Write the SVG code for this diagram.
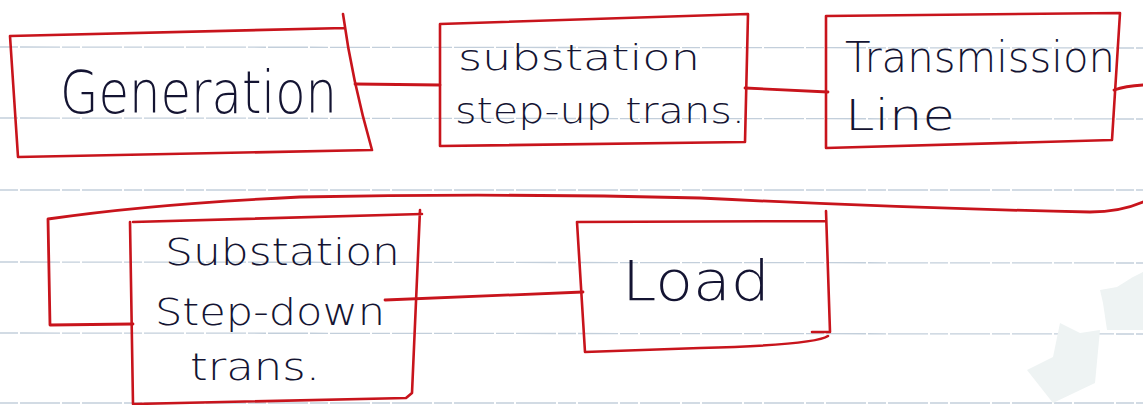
<svg xmlns="http://www.w3.org/2000/svg" width="1143" height="405" viewBox="0 0 1143 405">
<style>
.paper{stroke:#c3cfdb;stroke-width:1.3;stroke-dasharray:18 2 40 2;fill:none}
.patch{fill:#eef3f3}
.box{fill:none;stroke:#c8141c;stroke-width:2.6;stroke-linejoin:round;stroke-linecap:round}
.wire{fill:none;stroke:#c8141c;stroke-width:2.8;stroke-linecap:round;stroke-linejoin:round}
.lbl{font-family:"DejaVu Sans","Liberation Sans",sans-serif;font-weight:300;fill:#141432}
</style>
<rect width="1143" height="405" fill="#ffffff"/>
<g id="paper">
<path class="paper" d="M0 47 L1143 48"/>
<path class="paper" d="M0 118 L1143 119"/>
<path class="paper" d="M0 190 L1143 190"/>
<path class="paper" d="M0 262 L1143 263"/>
<path class="paper" d="M0 333 L1143 334"/>
<path class="paper" d="M0 403 L1143 403"/>
<path class="patch" d="M1100 290 L1117 287 L1133 277 L1143 272 L1143 330 L1107 330 L1103 303 Z"/>
<path class="patch" d="M1060 323 L1080 333 L1100 330 L1095 383 L1053 403 L1027 370 L1053 357 Z"/>
</g>
<g id="connectors">
<path class="wire" d="M355 84 L440 85"/>
<path class="wire" d="M745 88 L828 92"/>
<path class="wire" d="M1114 90 Q1125 86 1143 85"/>
<path class="wire" d="M1143 202 Q1120 212 1090 212 Q900 208 700 198 Q500 193 300 197 Q150 204 48 219 L50 325 L133 324"/>
<path class="wire" d="M385 300 L583 292"/>
</g>
<g id="generation">
<path class="box" d="M10 36 L345 28 M343 14 Q352 80 372 150 L18 157 L10 36"/>
<text class="lbl" x="60" y="113" font-size="58" textLength="277" lengthAdjust="spacingAndGlyphs">Generation</text>
</g>
<g id="stepup">
<path class="box" d="M440 24 L748 14 L745 142 L440 146 Z"/>
<text class="lbl" x="458" y="70" font-size="36" textLength="242" lengthAdjust="spacingAndGlyphs">substation</text>
<text class="lbl" x="455" y="123" font-size="36" textLength="290" lengthAdjust="spacingAndGlyphs">step-up trans.</text>
</g>
<g id="transmission">
<path class="box" d="M826 16 L1120 13 L1112 140 L826 148 Z"/>
<text class="lbl" x="845" y="72" font-size="42" textLength="270" lengthAdjust="spacingAndGlyphs">Transmission</text>
<text class="lbl" x="845" y="130" font-size="42" textLength="110" lengthAdjust="spacingAndGlyphs">Line</text>
</g>
<g id="stepdown">
<path class="box" d="M133 222 L422 214 M420 210 L412 393 L406 398 L133 404 L130 222"/>
<text class="lbl" x="165" y="265" font-size="38" textLength="235" lengthAdjust="spacingAndGlyphs">Substation</text>
<text class="lbl" x="155" y="325" font-size="38" textLength="230" lengthAdjust="spacingAndGlyphs">Step-down</text>
<text class="lbl" x="190" y="380" font-size="38" textLength="130" lengthAdjust="spacingAndGlyphs">trans.</text>
</g>
<g id="load">
<path class="box" d="M577 222 L826 221 M826 211 L830 332 L812 332 M828 336 Q815 345 700 348 L585 352 L577 222"/>
<text class="lbl" x="622" y="300" font-size="56" textLength="148" lengthAdjust="spacingAndGlyphs">Load</text>
</g>
</svg>
